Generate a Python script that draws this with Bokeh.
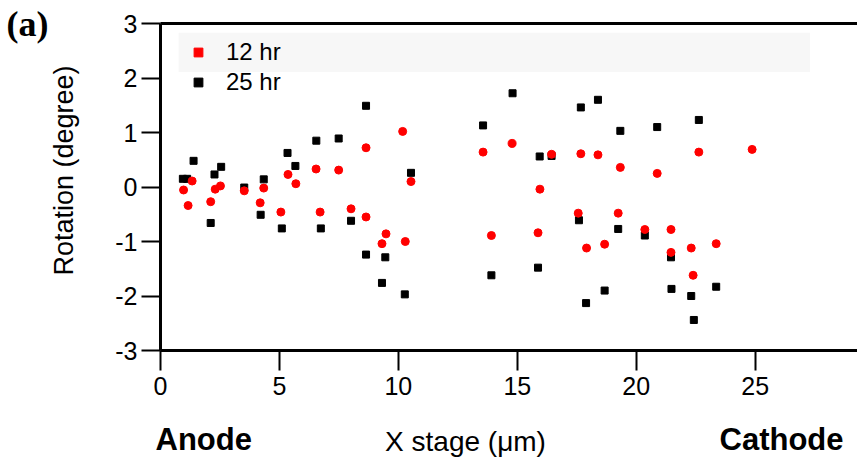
import math
from bokeh.plotting import figure
from bokeh.models import (FixedTicker, Label, Legend, LegendItem, BoxAnnotation, LinearAxis)
from bokeh.embed import file_html
from bokeh.resources import INLINE

# ---- data ----
x_12hr = [0.97, 1.33, 1.16, 2.11, 2.30, 2.52, 3.52, 4.34, 4.19, 5.36, 5.69, 5.06,
          6.54, 6.71, 7.49, 8.01, 8.64, 8.64, 9.48, 9.31, 10.18, 10.29, 10.53,
          13.56, 13.91, 14.78, 15.87, 15.95, 16.44, 17.67, 17.56, 17.91, 18.39,
          18.67, 19.33, 19.24, 20.36, 20.88, 21.46, 21.46, 22.31, 22.39, 22.63,
          23.36, 24.87]
y_12hr = [-0.055, 0.11, -0.34, -0.27, -0.04, 0.02, -0.07, -0.02, -0.29, 0.23, 0.06, -0.46,
          0.33, -0.46, 0.31, -0.40, 0.72, -0.55, -0.86, -1.04, 1.02, -1.00, 0.10,
          0.64, -0.89, 0.80, -0.84, -0.04, 0.60, 0.61, -0.48, -1.12, 0.59,
          -1.05, 0.36, -0.48, -0.78, 0.25, -0.78, -1.20, -1.12, -1.62, 0.64,
          -1.04, 0.69]

x_25hr = [0.94, 1.12, 1.39, 2.11, 2.27, 2.55, 3.52, 4.21, 4.34, 5.10, 5.34, 5.67,
          6.55, 6.74, 7.49, 8.01, 8.64, 8.64, 9.45, 9.31, 10.18, 10.53, 10.27,
          13.56, 13.91, 14.80, 15.87, 15.94, 16.44, 17.67, 17.59, 17.89, 18.39,
          18.67, 19.33, 19.24, 20.36, 20.88, 21.46, 21.48, 22.31, 22.42, 22.63,
          23.36, 24.87]
y_25hr = [0.15, 0.15, 0.48, -0.66, 0.23, 0.37, -0.01, -0.51, 0.14, -0.76, 0.625, 0.386,
          0.85, -0.76, 0.89, -0.62, 1.49, -1.24, -1.29, -1.76, 2.22, 0.26, -1.97,
          1.13, -1.62, 1.72, -1.48, 0.56, 0.57, 1.46, -0.61, -2.13, 1.60,
          -1.90, 1.03, -0.77, -0.89, 1.10, -1.29, -1.87, -2.0, -2.44, 1.23,
          -1.83, 2.32]

x_ticks = [0, 5, 10, 15, 20, 25]
y_ticks = [-3, -2, -1, 0, 1, 2, 3]
series_labels = ["12 hr", "25 hr"]
x_min, x_max = 0, 29.3
y_min, y_max = -3, 3

FONT = "Liberation Sans"
W, H = 857, 463
# pixel geometry of the plotting box inside the canvas
LEFT, TOP, BOTTOM = 160, 23, 350
px_x = (W - LEFT) / (x_max - x_min)
px_y = (BOTTOM - TOP) / (y_max - y_min)

# the frame spans the whole canvas; axes are pinned at the data box edges
p = figure(width=W, height=H,
           x_range=(x_min - LEFT / px_x, x_max),
           y_range=(y_min - (H - BOTTOM) / px_y, y_max + TOP / px_y),
           output_backend="svg", toolbar_location=None, title=None,
           min_border=0)
p.outline_line_color = None
p.xgrid.visible = False
p.ygrid.visible = False
p.background_fill_color = "white"

# faint band behind legend
p.add_layout(BoxAnnotation(left=0.76, right=27.3, bottom=2.11, top=2.83,
                           fill_color="#f7f7f7", fill_alpha=1, line_color=None))

for ax in (p.xaxis[0], p.yaxis[0]):
    ax.axis_line_width = 3
    ax.axis_line_color = "black"
    ax.major_tick_line_width = 2
    ax.major_tick_line_color = "black"
    ax.major_tick_in = 0
    ax.minor_tick_line_color = None
    ax.major_label_text_font = FONT
    ax.major_label_text_font_size = "25px"
    ax.major_label_text_color = "black"

p.xaxis.fixed_location = y_min
p.xaxis.bounds = (x_min, x_max)
p.yaxis.fixed_location = x_min
p.yaxis.bounds = (y_min, y_max)
p.xaxis.ticker = FixedTicker(ticks=x_ticks)
p.yaxis.ticker = FixedTicker(ticks=y_ticks)
p.yaxis.major_label_overrides = {t: str(t) for t in y_ticks}
p.xaxis.major_tick_out = 20
p.yaxis.major_tick_out = 19
p.xaxis.major_label_standoff = 6
p.yaxis.major_label_standoff = 4

# top frame line
top_axis = LinearAxis(fixed_location=y_max, bounds=(x_min, x_max),
                      ticker=FixedTicker(ticks=[]), axis_line_width=3,
                      axis_line_color="black", major_tick_line_color=None,
                      minor_tick_line_color=None, major_label_text_font_size="0px")
p.add_layout(top_axis, "above")

r25 = p.scatter(x_25hr, y_25hr, marker="square", size=7, color="black")
r12 = p.scatter(x_12hr, y_12hr, marker="circle", size=8, color="red")

# legend icons are squares for both series (not drawn in the plot area)
nan = float("nan")
l12 = p.scatter([nan], [nan], marker="square", color="red")
l25 = p.scatter([nan], [nan], marker="square", color="black")
legend = Legend(items=[LegendItem(label=series_labels[0], renderers=[l12]),
                       LegendItem(label=series_labels[1], renderers=[l25])],
                location=(178, 367), padding=0, margin=0, spacing=2,
                glyph_width=40, glyph_height=22, label_height=22,
                label_standoff=8, label_text_font=FONT, label_text_color="black",
                label_text_font_size="24px", background_fill_alpha=0,
                border_line_color=None)
p.add_layout(legend)

common = dict(x_units="screen", y_units="screen", text_color="black")
# screen coordinates measured from the canvas bottom-left
p.add_layout(Label(x=63, y=H - 170, text="Rotation (degree)", angle=math.pi / 2,
                   text_align="center", text_baseline="middle", text_font=FONT,
                   text_font_size="27px", **common))
p.add_layout(Label(x=155, y=H - 439, text="Anode", text_align="left", text_baseline="middle",
                   text_font=FONT, text_font_size="31px", text_font_style="bold", **common))
p.add_layout(Label(x=465, y=H - 441, text="X stage (\u03bcm)", text_align="center",
                   text_baseline="middle", text_font=FONT, text_font_size="28px", **common))
p.add_layout(Label(x=843, y=H - 439, text="Cathode", text_align="right", text_baseline="middle",
                   text_font=FONT, text_font_size="31px", text_font_style="bold", **common))
p.add_layout(Label(x=6, y=H - 23, text="(a)", text_align="left", text_baseline="middle",
                   text_font="Liberation Serif", text_font_size="36px",
                   text_font_style="bold", **common))

open("out.html", "w").write(file_html(p, INLINE))
